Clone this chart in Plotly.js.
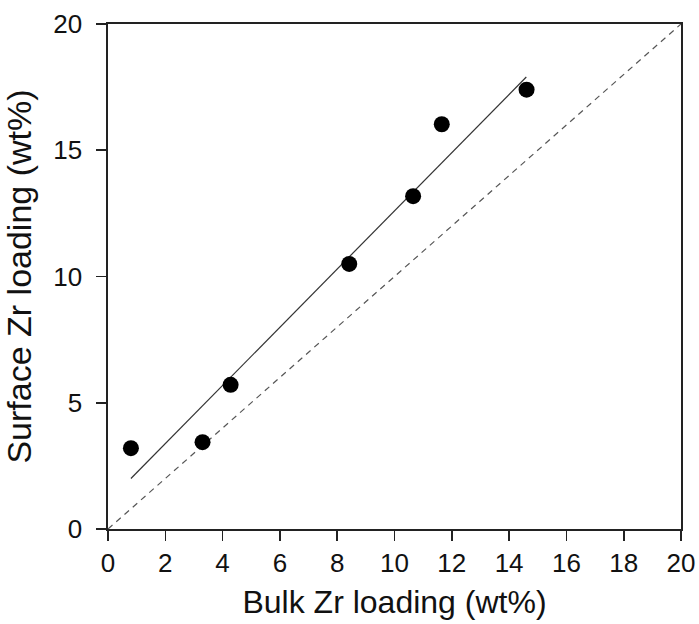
<!DOCTYPE html>
<html>
<head>
<meta charset="utf-8">
<script src="https://cdn.plot.ly/plotly-3.0.1.min.js"></script>
<style>html,body{margin:0;padding:0;background:#fff;}#chart{width:699px;height:624px;}</style>
</head>
<body>
<div id="chart"></div>
<script>
// Data
const bulkZr = [0.80, 3.30, 4.28, 8.42, 10.65, 11.65, 14.61];
const surfaceZr = [3.20, 3.44, 5.71, 10.50, 13.18, 16.03, 17.40];
const fitX = [0.8, 14.6];
const fitY = [2.0, 17.9];
const parityX = [0, 20];
const parityY = [0, 20];
const xTicks = [0, 2, 4, 6, 8, 10, 12, 14, 16, 18, 20];
const yTicks = [0, 5, 10, 15, 20];

const FONT = 'Liberation Sans, Arial, sans-serif';
const big = v => '<span style="font-size:26px">' + v + '</span>';

const traces = [
  {x: parityX, y: parityY, mode: 'lines', type: 'scatter',
   line: {color: '#555', width: 1.2, dash: '6px,5px'}, hoverinfo: 'skip'},
  {x: fitX, y: fitY, mode: 'lines', type: 'scatter',
   line: {color: '#333', width: 1.2}, hoverinfo: 'skip'},
  {x: bulkZr, y: surfaceZr, mode: 'markers', type: 'scatter',
   marker: {color: '#000', size: 16}}
];

const layout = {
  width: 699, height: 624,
  margin: {l: 108, r: 18, t: 24, b: 95},
  paper_bgcolor: '#fff', plot_bgcolor: '#fff',
  showlegend: false,
  font: {family: FONT, size: 24, color: '#111'},
  xaxis: {
    showgrid: false, zeroline: false, showline: true, mirror: true,
    linecolor: '#222', linewidth: 1.6, ticks: 'outside', ticklen: 10,
    tickwidth: 1.6, tickcolor: '#222', automargin: false,
    tickfont: {family: FONT, size: 26, color: '#111'},
    range: [0, 20], tickmode: 'array', tickvals: xTicks, ticktext: xTicks.map(big),
    title: {text: 'Bulk Zr loading (wt%)', standoff: 14,
      font: {family: FONT, size: 32, color: '#111'}}
  },
  yaxis: {
    showgrid: false, zeroline: false, showline: true, mirror: true,
    linecolor: '#222', linewidth: 1.6, ticks: 'outside', ticklen: 10,
    tickwidth: 1.6, tickcolor: '#222', automargin: false,
    tickfont: {family: FONT, size: 26, color: '#111'},
    range: [0, 20], tickmode: 'array', tickvals: yTicks, ticktext: yTicks.map(big),
    ticklabelstandoff: 9,
    title: {text: 'Surface Zr loading (wt%)', standoff: 12,
      font: {family: FONT, size: 34, color: '#111'}}
  }
};

Plotly.newPlot('chart', traces, layout, {displayModeBar: false, staticPlot: true});
</script>
</body>
</html>
